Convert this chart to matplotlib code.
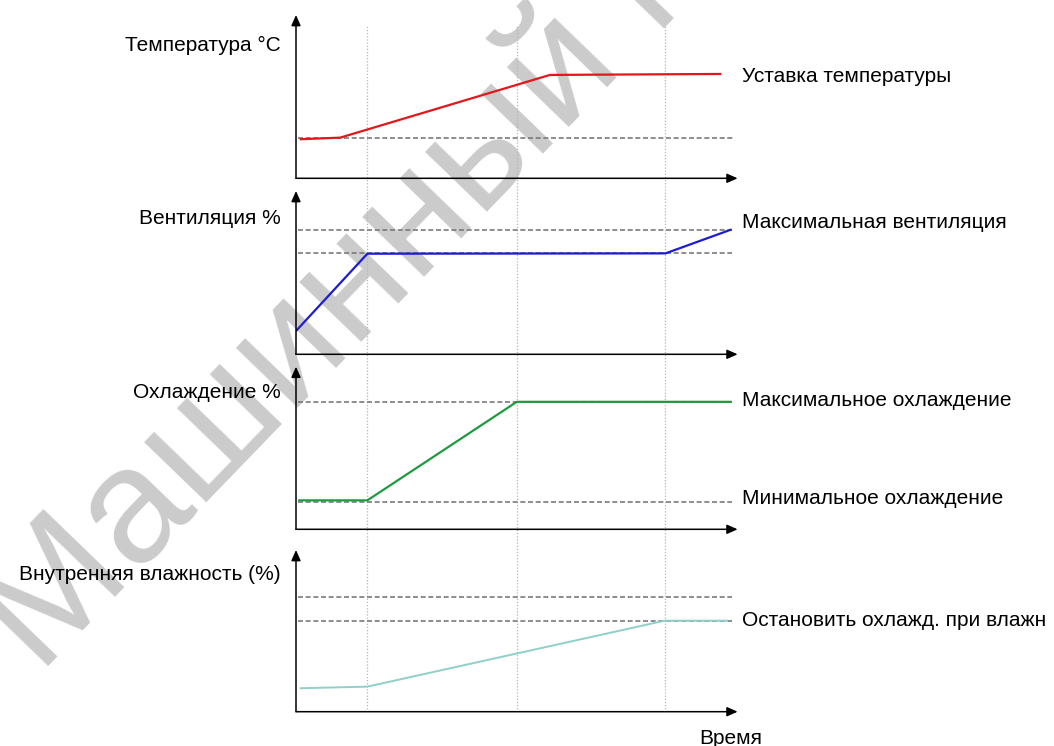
import matplotlib
matplotlib.use("Agg")
import matplotlib.pyplot as plt

plt.rcParams['font.family'] = ['Liberation Sans', 'DejaVu Sans']

W, H = 1054, 746

# time axis (arbitrary units), vertical markers
t_marks = [0.97, 3.0, 5.01]

# panel 1: temperature
temp_t = [0.05, 0.6, 3.45, 5.78]
temp_y = [23.9, 24.9, 63.3, 63.9]
temp_ref = [24.5]

# panel 2: ventilation
vent_t = [0.0, 0.97, 5.02, 5.92]
vent_y = [14.3, 61.6, 61.8, 76.5]
vent_ref = [76.1, 61.8]

# panel 3: cooling
cool_t = [0.03, 0.97, 3.0, 5.92]
cool_y = [17.8, 17.8, 78.4, 78.4]
cool_ref = [78.1, 17.0]

# panel 4: humidity
hum_t = [0.05, 0.97, 5.01, 5.87]
hum_y = [14.5, 15.5, 56.3, 56.3]
hum_ref = [71.1, 56.3]

panels = [
    dict(t=temp_t, y=temp_y, ref=temp_ref, color='#e3161b', lw=1.6,
         top=15, bottom=178.3, ref_end=5.95,
         left_label='Температура °C', left_y=45,
         right=[('Уставка температуры', 76)]),
    dict(t=vent_t, y=vent_y, ref=vent_ref, color='#1c1cd6', lw=1.6,
         top=191, bottom=354.3, ref_end=5.92,
         left_label='Вентиляция %', left_y=218,
         right=[('Максимальная вентиляция', 223)]),
    dict(t=cool_t, y=cool_y, ref=cool_ref, color='#1f9b3f', lw=1.6,
         top=366.7, bottom=529.3, ref_end=5.92,
         left_label='Охлаждение %', left_y=393,
         right=[('Максимальное охлаждение', 401), ('Минимальное охлаждение', 498)]),
    dict(t=hum_t, y=hum_y, ref=hum_ref, color='#8fd0c8', lw=1.4,
         top=550, bottom=711.7, ref_end=5.92,
         left_label='Внутренняя влажность (%)', left_y=575,
         right=[('Остановить охлажд. при влажн', 620)]),
]

X0, X1 = 296, 737.6
XMAX = 6.0

fig = plt.figure(figsize=(W / 100, H / 100), dpi=100)

# watermark behind everything
fig.text(40 / W, 1 - 675 / H, 'Машинный перевод', fontsize=118, rotation=46,
         rotation_mode='anchor', ha='left', va='baseline', color='#cbcbcb',
         zorder=-1)

# vertical dotted markers spanning all panels
bg = fig.add_axes([X0 / W, 1 - 711.7 / H, (X1 - X0) / W, (711.7 - 25) / H])
bg.set_xlim(0, XMAX)
bg.set_ylim(0, 1)
bg.axis('off')
for tm in t_marks:
    bg.axvline(tm, color='#b5b5b5', lw=0.9, ls=(0, (1, 1.5)))

for p in panels:
    ax = fig.add_axes([X0 / W, 1 - p['bottom'] / H, (X1 - X0) / W,
                       (p['bottom'] - p['top']) / H])
    ax.patch.set_alpha(0)
    ax.set_xlim(0, XMAX)
    ax.set_ylim(0, 100)
    ax.axis('off')
    for r in p['ref']:
        ax.plot([0.03, p['ref_end']], [r, r], color='#7a7a7a', lw=1.2,
                ls=(0, (3, 1.6)), zorder=2)
    ax.plot(p['t'], p['y'], color=p['color'], lw=p['lw'], zorder=3,
            solid_capstyle='butt')
    arrow = dict(arrowstyle='-|>,head_length=0.45,head_width=0.2', color='black',
                 lw=1.1, shrinkA=0, shrinkB=0, mutation_scale=14)
    ax.annotate('', xy=(0, 1), xytext=(0, 0), xycoords='axes fraction',
                arrowprops=arrow)
    ax.annotate('', xy=(1, 0), xytext=(0, 0), xycoords='axes fraction',
                arrowprops=arrow)
    fig.text(281 / W, 1 - p['left_y'] / H, p['left_label'], fontsize=15,
             ha='right', va='center')
    for txt, yy in p['right']:
        fig.text(742 / W, 1 - yy / H, txt, fontsize=15, ha='left', va='center')

fig.text(731 / W, 1 - 738 / H, 'Время', fontsize=15, ha='center', va='center')

fig.savefig('out.png', dpi=100)
